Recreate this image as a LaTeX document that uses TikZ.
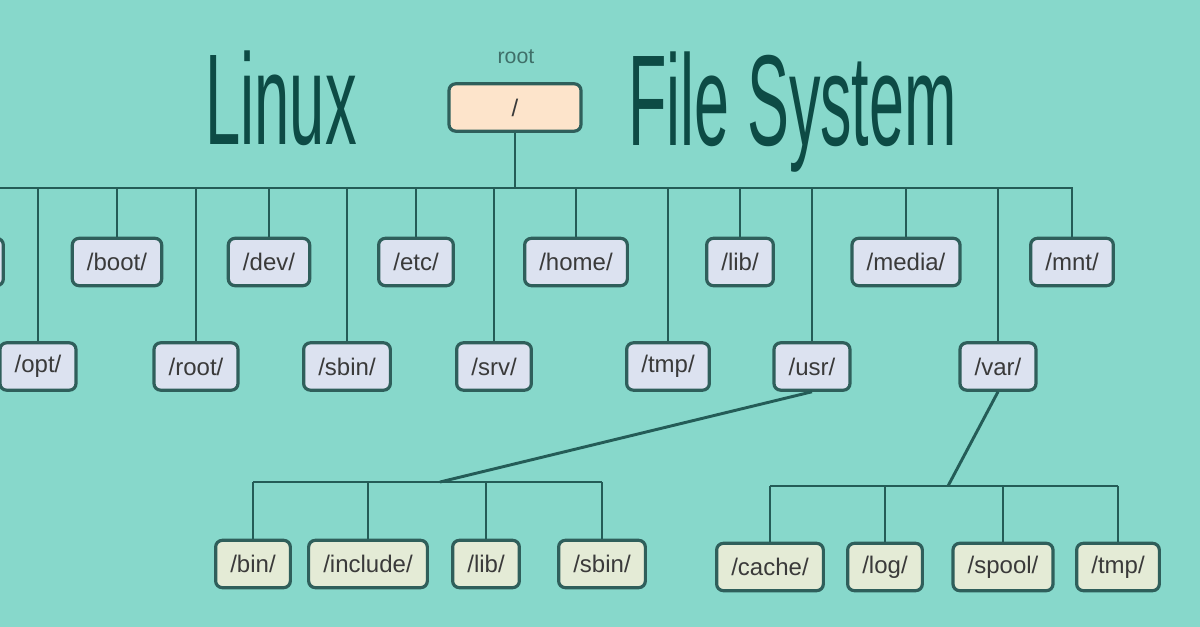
\documentclass[tikz,border=0pt]{standalone}
\usepackage{fontspec}
\setmainfont{Liberation Sans}
\usepackage{graphicx}

\definecolor{bgteal}{HTML}{87D8CB}
\definecolor{linkcol}{HTML}{245C57}
\definecolor{boxline}{HTML}{2F5F5B}
\definecolor{titlecol}{HTML}{0D4B45}
\definecolor{dirfill}{HTML}{DCE2F0}
\definecolor{subfill}{HTML}{E4EBD6}
\definecolor{rootfill}{HTML}{FDE4CB}
\definecolor{boxtext}{HTML}{3A3A3A}
\definecolor{lblcol}{HTML}{3F6F69}

\tikzset{every picture/.style={line width=0.75pt}}
\tikzset{
  dirbox/.style={draw=boxline, line width=2.4pt, rounded corners=5pt, fill=dirfill,
    minimum height=35.5pt, inner xsep=11pt, text=boxtext, font=\fontsize{18}{21}\selectfont},
  subbox/.style={dirbox, fill=subfill},
  link/.style={draw=linkcol, line width=2.2pt},
  titletext/.style={text=titlecol, inner sep=0pt, font=\fontsize{97}{100}\selectfont},
}

\begin{document}
\begin{tikzpicture}[x=0.75pt,y=0.75pt,yscale=-1,xscale=1]
%set diagram to the size of the picture
\useasboundingbox (0,0) rectangle (1200,627);
\fill[bgteal] (0,0) rectangle (1200,627);
\clip (0,0) rectangle (1200,627);

% Title
\node[titletext, anchor=base] (tlinux) at (281,145) {\scalebox{0.49}[1]{Linux}};
\node[titletext, anchor=base west] (tfs) at (628,146) {\scalebox{0.486}[1]{File System}};

% Root
\node[text=lblcol, font=\fontsize{16}{19}\selectfont] (rootlbl) at (516,57) {root};
\node[dirbox, fill=rootfill, minimum width=99pt] (root) at (515,107.5) {/};

% Main bar
\coordinate (barL) at (0,188);
\coordinate (barR) at (1073,188);
\draw[link] (barL) -- (barR);
\draw[link] (root.south) -- (root.south |- barL);

% Text Node: first row
\node[dirbox, minimum width=50pt] (binT) at (-30,262) {};
\node[dirbox] (boot) at (117,262) {/boot/};
\node[dirbox] (dev) at (269,262) {/dev/};
\node[dirbox] (etc) at (416,262) {/etc/};
\node[dirbox] (home) at (576,262) {/home/};
\node[dirbox] (lib) at (740,262) {/lib/};
\node[dirbox] (media) at (906,262) {/media/};
\node[dirbox] (mnt) at (1072,262) {/mnt/};

% Text Node: second row
\node[dirbox] (opt) at (38,366.5) {/opt/};
\node[dirbox] (rootd) at (196,366.5) {/root/};
\node[dirbox] (sbin) at (347,366.5) {/sbin/};
\node[dirbox] (srv) at (494,366.5) {/srv/};
\node[dirbox] (tmp) at (668,366.5) {/tmp/};
\node[dirbox] (usr) at (812,366.5) {/usr/};
\node[dirbox] (var) at (998,366.5) {/var/};

% Straight Lines: bar to first level
\foreach \d in {boot,dev,etc,home,lib,media,mnt,opt,rootd,sbin,srv,tmp,usr,var}
  \draw[link] (\d.north) -- (\d.north |- barL);

% Text Node: /usr/ children
\node[subbox] (ubin) at (253,564) {/bin/};
\node[subbox] (uinc) at (368,564) {/include/};
\node[subbox] (ulib) at (486,564) {/lib/};
\node[subbox] (usbin) at (602,564) {/sbin/};

\coordinate (usrJ) at (440,482);
\draw[link] (usr.south) -- (usrJ);
\draw[link] (ubin.north |- usrJ) -- (usbin.north |- usrJ);
\foreach \d in {ubin,uinc,ulib,usbin}
  \draw[link] (\d.north) -- (\d.north |- usrJ);

% Text Node: /var/ children
\node[subbox] (vcache) at (770,567) {/cache/};
\node[subbox] (vlog) at (885,567) {/log/};
\node[subbox] (vspool) at (1003,567) {/spool/};
\node[subbox] (vtmp) at (1118,567) {/tmp/};

\coordinate (varJ) at (948,486);
\draw[link] (var.south) -- (varJ);
\draw[link] (vcache.north |- varJ) -- (vtmp.north |- varJ);
\foreach \d in {vcache,vlog,vspool,vtmp}
  \draw[link] (\d.north) -- (\d.north |- varJ);

\end{tikzpicture}
\end{document}
